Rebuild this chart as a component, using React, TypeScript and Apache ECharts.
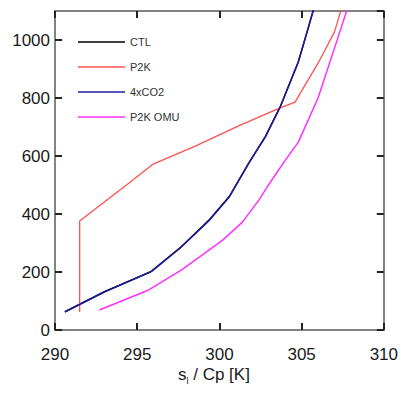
import React, { useEffect, useRef } from "react";
import * as echarts from "echarts";

const seriesNames = ["CTL", "P2K", "4xCO2", "P2K OMU"];
const seriesColors = ["#000000", "#ff5050", "#1c1ca0", "#ff30ff"];

const ctl: number[][] = [
  [290.6, 63], [293.0, 132], [295.8, 200], [297.6, 283], [299.4, 381],
  [300.6, 460], [301.8, 577], [302.8, 668], [303.7, 770], [304.8, 925],
  [305.4, 1041], [306.1, 1180],
];
const p2k: number[][] = [
  [291.5, 62], [291.5, 376], [294.5, 507], [296.0, 573], [298.5, 633],
  [301.2, 705], [303.7, 766], [304.6, 786], [306.0, 920], [307.0, 1028],
  [307.8, 1180],
];
const co2: number[][] = [
  [290.6, 62], [293.0, 131], [295.9, 203], [297.6, 282], [299.4, 379],
  [300.6, 459], [301.8, 576], [302.8, 666], [303.7, 769], [304.8, 924],
  [305.4, 1041], [306.1, 1180],
];
const p2kOmu: number[][] = [
  [292.7, 69], [295.7, 138], [297.7, 207], [298.8, 252], [300.2, 310],
  [301.4, 372], [302.4, 448], [302.9, 493], [304.0, 585], [304.8, 648],
  [306.0, 800], [307.0, 972], [308.2, 1180],
];

const xTicks = { min: 290, max: 310, interval: 5 };
const yTicks = { min: 0, max: 1100, interval: 200 };

const frame = () => ({ show: true, onZero: false, lineStyle: { color: "#5a5a5a", width: 1.5 } });
const tick = () => ({ show: true, inside: true, length: 7, lineStyle: { color: "#222222", width: 2 } });

export default function App() {
  const ref = useRef<HTMLDivElement>(null);
  useEffect(() => {
    if (!ref.current) return;
    const chart = echarts.init(ref.current, undefined, { renderer: "svg" });
    const font = "Liberation Sans, Arial, sans-serif";
    const datas = [ctl, p2k, co2, p2kOmu];
    chart.setOption({
      animation: false,
      grid: { left: 55, right: 15, top: 11, bottom: 65 },
      legend: {
        orient: "vertical",
        left: 73,
        top: 30,
        icon: "rect",
        itemWidth: 47,
        itemHeight: 1.5,
        itemGap: 11,
        data: seriesNames,
        textStyle: { fontFamily: font, fontSize: 11, color: "#333333", lineHeight: 14 },
      },
      xAxis: [
        {
          type: "value",
          ...xTicks,
          position: "bottom",
          axisLine: frame(),
          axisTick: tick(),
          splitLine: { show: false },
          axisLabel: {
            fontFamily: font, fontSize: 17, color: "#1a1a1a", margin: 16,
            formatter: (v: number) => String(v),
          },
        },
        {
          type: "value",
          ...xTicks,
          position: "top",
          axisLine: frame(),
          axisTick: tick(),
          splitLine: { show: false },
          axisLabel: { show: false },
        },
      ],
      yAxis: [
        {
          type: "value",
          ...yTicks,
          position: "left",
          axisLine: frame(),
          axisTick: tick(),
          splitLine: { show: false },
          axisLabel: {
            fontFamily: font, fontSize: 17, color: "#1a1a1a", margin: 5, showMaxLabel: false,
            formatter: (v: number) => String(v),
          },
        },
        {
          type: "value",
          ...yTicks,
          position: "right",
          axisLine: frame(),
          axisTick: tick(),
          splitLine: { show: false },
          axisLabel: { show: false },
        },
      ],
      graphic: [
        {
          type: "text",
          left: 178,
          top: 366,
          style: {
            text: "{m|s}{s|l}{m| / Cp [K]}",
            rich: {
              m: { fontFamily: font, fontSize: 17, fill: "#1a1a1a" },
              s: { fontFamily: font, fontSize: 9, fill: "#1a1a1a", padding: [12, 0, 0, 0] },
            },
          },
        },
      ],
      series: datas.map((d, i) => ({
        name: seriesNames[i],
        type: "line",
        data: d,
        showSymbol: false,
        symbol: "none",
        clip: true,
        lineStyle: { color: seriesColors[i], width: i === 1 ? 1.3 : 1.5 },
        itemStyle: { color: seriesColors[i] },
        z: i === 2 ? 3 : 2,
      })),
    });
    return () => chart.dispose();
  }, []);
  return (
    <div
      ref={ref}
      style={{ position: "absolute", left: 0, top: 0, width: 401, height: 395 }}
    />
  );
}
